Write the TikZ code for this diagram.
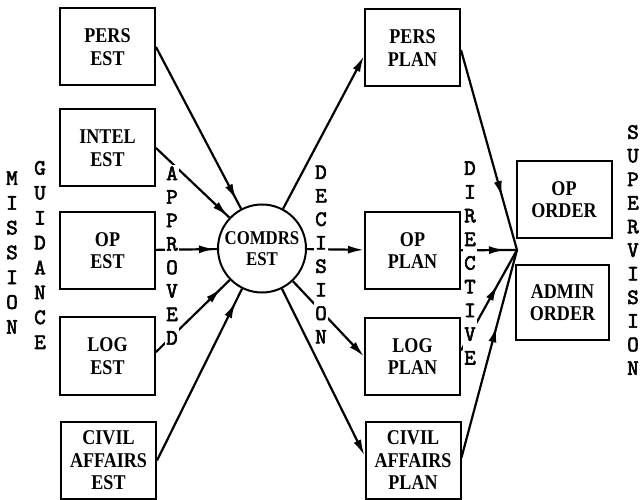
\documentclass[tikz,border=0pt]{standalone}
\usepackage{fontspec}
\newfontfamily\bx[FakeStretch=0.86]{Liberation Serif}
\newfontfamily\lt[FakeBold=2.5]{lmmono10-regular.otf}
\usetikzlibrary{arrows.meta,decorations.markings}
\begin{document}
\begin{tikzpicture}[x=1pt,y=-1pt, line width=2.2pt,
  box/.style={draw, line width=2pt, minimum width=95pt, minimum height=77pt, align=center,
    font=\bx\bfseries\fontsize{21}{22.5}\selectfont, inner sep=0pt},
  vlab/.style={fill=white, align=center, inner xsep=1.5pt, inner ysep=1pt,
    font=\lt\fontsize{22}{#1}\selectfont},
  tip/.style={-{Latex[length=16pt,width=8pt]}},
  arr/.style={postaction={decorate}, decoration={markings,
    mark=at position #1 with {\arrow{Latex[length=16pt,width=8pt]}}}}
]
\useasboundingbox (0,0) rectangle (641,500);
% nodes
\node[box] (pe) at (107.5,47) {PERS\\EST};
\node[box] (ie) at (107.5,148) {INTEL\\EST};
\node[box] (oe) at (107.5,250.5) {OP\\EST};
\node[box] (le) at (107.5,356) {LOG\\EST};
\node[box] (ce) at (108.5,460.5) {CIVIL\\AFFAIRS\\EST};
\node[circle, draw, line width=2pt, minimum size=88pt, inner sep=0pt, align=center,
  font=\bx\bfseries\fontsize{19.5}{21}\selectfont] (c) at (262,248.5) {COMDRS\\EST};
\node[box] (pp) at (412.5,48) {PERS\\PLAN};
\node[box] (op) at (412.5,250.5) {OP\\PLAN};
\node[box] (lp) at (412.5,356.5) {LOG\\PLAN};
\node[box] (cp) at (413,460.5) {CIVIL\\AFFAIRS\\PLAN};
\node[box] (oo) at (564,199.5) {OP\\ORDER};
\node[box, minimum width=93pt, minimum height=75pt] (ao) at (562.5,302.5) {ADMIN\\ORDER};
\coordinate (v) at (517,250);
% connectors into commander's estimate
\draw[arr=-10pt] (pe.east) -- (c);
\draw[arr=-2pt] (ie.east) -- (c);
\draw[arr=-2pt] (oe) -- (c);
\draw[arr=-12pt] ([yshift=4pt]le.east) -- (c);
\draw[arr=-15pt] (ce.east) -- (c);
% decisions
\draw[tip] (c) -- ([yshift=-8pt]pp.west);
\draw[tip] (c) -- (op);
\draw[tip] (c) -- (lp.west);
\draw[tip] (c) -- ([yshift=5pt]cp.west);
% directives
\draw[arr=-55pt] ([yshift=-2pt]pp.east) -- (v);
\draw[arr=-12pt] (op) -- (v);
\draw[arr=-40pt] ([yshift=6pt]lp.east) -- (v);
\draw[arr=-79pt] ([yshift=3pt]cp.east) -- (v);
% vertical labels
\node[vlab=24.8] (mis) at (12,252.5) {M\\I\\S\\S\\I\\O\\N};
\node[vlab=24.9] (gui) at (40,255) {G\\U\\I\\D\\A\\N\\C\\E};
\node[vlab=23.5] (app) at (172,255.5) {A\\P\\P\\R\\O\\V\\E\\D};
\node[vlab=23.5] (dec) at (321,254.5) {D\\E\\C\\I\\S\\I\\O\\N};
\node[vlab=23.7] (dir) at (470,263) {D\\I\\R\\E\\C\\T\\I\\V\\E};
\node[vlab=23.6] (sup) at (633,250) {S\\U\\P\\E\\R\\V\\I\\S\\I\\O\\N};
\end{tikzpicture}
\end{document}
